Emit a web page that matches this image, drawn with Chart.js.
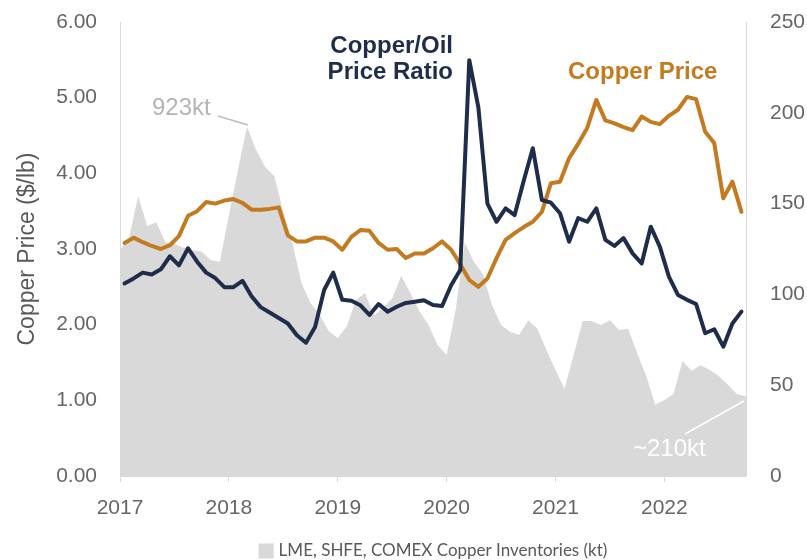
<!DOCTYPE html>
<html>
<head>
<meta charset="utf-8">
<script src="https://cdn.jsdelivr.net/npm/chart.js@4.4.1/dist/chart.umd.min.js"></script>
<style>
  html, body { margin: 0; padding: 0; background: #ffffff; }
  #wrap { width: 807px; height: 560px; position: relative; }
</style>
</head>
<body>
<div id="wrap"><canvas id="chart"></canvas></div>
<script>
// ---- Data (monthly, Jan 2017 onwards) ----
const yearLabels = ['2017', '2018', '2019', '2020', '2021', '2022'];

// Copper price, $/lb (left axis), mid-month readings
const copperPrice = [
  3.08, 3.15, 3.09, 3.04, 3.00, 3.05, 3.17, 3.44, 3.50, 3.62,
  3.60, 3.64, 3.66, 3.61, 3.52, 3.52, 3.53, 3.55, 3.18, 3.10,
  3.10, 3.15, 3.15, 3.10, 2.99, 3.16, 3.25, 3.24, 3.08, 2.99,
  3.00, 2.88, 2.94, 2.94, 3.01, 3.10, 2.99, 2.80, 2.59, 2.50,
  2.61, 2.88, 3.12, 3.21, 3.29, 3.36, 3.49, 3.87, 3.89, 4.20,
  4.39, 4.60, 4.97, 4.70, 4.66, 4.61, 4.57, 4.75, 4.68, 4.65,
  4.76, 4.84, 5.01, 4.98, 4.55, 4.40, 3.67, 3.89, 3.49
];

// Copper/Oil price ratio (right axis), mid-month readings
const copperOilRatio = [
  106, 108.8, 112, 111, 113.8, 121, 116, 125.4, 118, 112,
  109, 104, 104, 107.5, 99, 93, 90, 87, 84, 77.5,
  73.4, 82, 102.4, 112, 97, 96.5, 94, 88.7, 94.7, 90.5,
  93.2, 95.3, 96, 96.8, 94.2, 93.6, 105, 113.4, 229, 203,
  150, 140, 147.4, 143.7, 162.6, 180.5, 152, 150.5, 144.7, 129,
  142, 140, 147.4, 130, 126.7, 131, 122.6, 117, 137.3, 126.3,
  109.8, 99.7, 97, 94.7, 78.6, 80.8, 71.2, 84, 90.5
];

// LME, SHFE, COMEX copper inventories, kt (hidden axis), month-start readings
const inventoriesKt = [
  597, 629, 740, 661, 671, 618, 613, 603, 597, 593,
  571, 566, 690, 809, 923, 862, 817, 793, 698, 616,
  510, 457, 426, 383, 365, 396, 465, 484, 425, 444,
  470, 529, 484, 436, 399, 346, 320, 439, 618, 566,
  534, 452, 399, 381, 373, 412, 389, 333, 280, 230,
  320, 410, 410, 399, 412, 386, 389, 325, 264, 188,
  201, 217, 304, 278, 293, 280, 264, 241, 217, 210
];

const ORANGE = '#c47a1e';
const NAVY = '#1f2d4b';
const GREY_FILL = '#d9d9d9';
const AXIS_LINE = '#d9d9d9';
const TICK_COLOR = '#666666';
const FONT = '"Liberation Sans", Arial, Helvetica, sans-serif';

// month index -> position on the linear month axis
const midMonth = arr => arr.map((v, i) => ({ x: i + 0.5, y: v }));
const monthStart = arr => arr.map((v, i) => ({ x: i, y: v }));

const annotationPlugin = {
  id: 'annotations',
  afterDatasetsDraw(chart) {
    const ctx = chart.ctx;
    ctx.save();
    ctx.textBaseline = 'middle';

    ctx.font = 'bold 24px ' + FONT;
    ctx.fillStyle = NAVY;
    ctx.textAlign = 'right';
    ctx.fillText('Copper/Oil', 453, 46);
    ctx.fillText('Price Ratio', 453, 72);

    ctx.fillStyle = ORANGE;
    ctx.textAlign = 'left';
    ctx.fillText('Copper Price', 568, 72);

    ctx.font = '24px ' + FONT;
    ctx.fillStyle = '#b4b4b4';
    ctx.fillText('923kt', 152, 108);
    ctx.strokeStyle = '#bdbdbd';
    ctx.lineWidth = 1.5;
    ctx.beginPath();
    ctx.moveTo(218, 116);
    ctx.lineTo(248, 125);
    ctx.stroke();

    ctx.fillStyle = '#ffffff';
    ctx.fillText('~210kt', 633, 449);
    ctx.strokeStyle = '#ffffff';
    ctx.beginPath();
    ctx.moveTo(685, 434);
    ctx.lineTo(744, 401);
    ctx.stroke();
    ctx.restore();
  },
  afterDraw(chart) {
    // legend for the inventories area
    const ctx = chart.ctx;
    const ds = chart.data.datasets[2];
    const area = chart.chartArea;
    ctx.save();
    ctx.font = '17px Lato, "Open Sans", sans-serif';
    const tw = ctx.measureText(ds.label).width;
    const box = 15, gap = 5;
    const total = box + gap + tw;
    const x0 = (area.left + area.right) / 2 - total / 2;
    const yc = 551;
    ctx.fillStyle = ds.backgroundColor;
    ctx.fillRect(x0, yc - box / 2, box, box);
    ctx.fillStyle = '#595959';
    ctx.textBaseline = 'middle';
    ctx.textAlign = 'left';
    ctx.fillText(ds.label, x0 + box + gap, yc);
    ctx.restore();
  }
};

new Chart(document.getElementById('chart'), {
  type: 'line',
  data: {
    datasets: [
      {
        label: 'Copper Price',
        data: midMonth(copperPrice),
        yAxisID: 'y',
        borderColor: ORANGE,
        borderWidth: 4,
        pointRadius: 0,
        tension: 0,
        fill: false,
        borderJoinStyle: 'round',
        borderCapStyle: 'round',
        order: 1
      },
      {
        label: 'Copper/Oil Price Ratio',
        data: midMonth(copperOilRatio),
        yAxisID: 'y2',
        borderColor: NAVY,
        borderWidth: 4,
        pointRadius: 0,
        tension: 0,
        fill: false,
        borderJoinStyle: 'round',
        borderCapStyle: 'round',
        order: 0
      },
      {
        label: 'LME, SHFE, COMEX Copper Inventories (kt)',
        data: monthStart(inventoriesKt),
        yAxisID: 'y3',
        borderColor: GREY_FILL,
        backgroundColor: GREY_FILL,
        borderWidth: 0,
        pointRadius: 0,
        tension: 0,
        fill: 'origin',
        order: 2
      }
    ]
  },
  options: {
    responsive: true,
    maintainAspectRatio: false,
    animation: false,
    layout: { padding: { top: 22, right: 0, bottom: 0, left: 0 } },
    plugins: {
      legend: { display: false },
      tooltip: { enabled: false },
      title: { display: false }
    },
    scales: {
      x: {
        type: 'linear',
        min: 0,
        max: 69,
        afterBuildTicks: scale => {
          scale.ticks = yearLabels.map((y, k) => ({ value: k * 12 }));
        },
        ticks: {
          autoSkip: false,
          maxRotation: 0,
          padding: 14,
          color: TICK_COLOR,
          font: { family: FONT, size: 21 },
          callback: value => yearLabels[Math.round(value / 12)]
        },
        grid: {
          display: true,
          drawOnChartArea: false,
          drawTicks: true,
          tickLength: 6,
          color: AXIS_LINE
        },
        border: { display: true, color: AXIS_LINE, width: 1 },
        afterFit: scale => {
          scale.height = 84;
          scale.paddingLeft = 0;
          scale.paddingRight = 0;
        }
      },
      y: {
        position: 'left',
        min: 0,
        max: 6,
        ticks: {
          stepSize: 1,
          padding: 23,
          color: TICK_COLOR,
          font: { family: FONT, size: 21 },
          callback: v => Number(v).toFixed(2)
        },
        grid: { display: false, drawTicks: false },
        border: { display: true, color: AXIS_LINE, width: 1 },
        title: {
          display: true,
          text: 'Copper Price ($/lb)',
          color: '#595959',
          font: { family: FONT, size: 23 },
          padding: { top: 14, bottom: 0 }
        },
        afterFit: scale => {
          scale.width = 120;
          scale.paddingTop = 0;
          scale.paddingBottom = 0;
        }
      },
      y2: {
        position: 'right',
        min: 0,
        max: 250,
        ticks: {
          stepSize: 50,
          padding: 24,
          color: TICK_COLOR,
          font: { family: FONT, size: 21 }
        },
        grid: { display: false, drawTicks: false },
        border: { display: true, color: AXIS_LINE, width: 1 },
        afterFit: scale => {
          scale.width = 61;
          scale.paddingTop = 0;
          scale.paddingBottom = 0;
        }
      },
      y3: {
        display: false,
        min: 0,
        max: 1200
      }
    }
  },
  plugins: [annotationPlugin]
});
</script>
</body>
</html>
